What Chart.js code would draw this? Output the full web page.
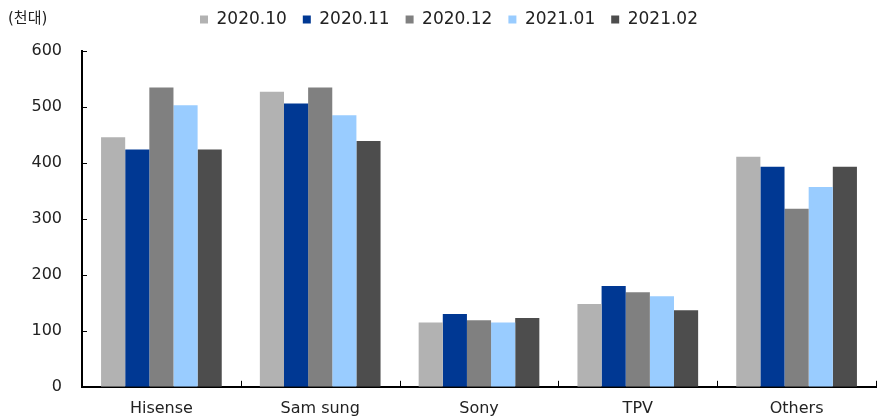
<!DOCTYPE html>
<html>
<head>
<meta charset="utf-8">
<script src="https://cdn.jsdelivr.net/npm/chart.js@4"></script>
<style>
  html, body { margin: 0; padding: 0; background: #fff; }
  #wrap { width: 885px; height: 419px; position: relative; }
</style>
</head>
<body>
<div id="wrap"><canvas id="chart" width="885" height="419"></canvas></div>
<script>
// ---------- Data ----------
const categories = ["Hisense", "Sam sung", "Sony", "TPV", "Others"];
const seriesNames = ["2020.10", "2020.11", "2020.12", "2021.01", "2021.02"];
const s202010 = [446, 527, 115, 148, 411];
const s202011 = [424, 506, 130, 180, 393];
const s202012 = [535, 535, 119, 169, 318];
const s202101 = [503, 485, 115, 162, 357];
const s202102 = [424, 439, 123, 137, 393];
const yTicks = [0, 100, 200, 300, 400, 500, 600];
const unitLabel = "(천대)";

const colors = ["#b2b2b2", "#003893", "#808080", "#99ccff", "#4d4d4d"];
const FONT = "'DejaVu Sans', 'Noto Sans CJK KR', sans-serif";

// ---------- Plugins ----------
// short inward tick marks + unit label; extra room under the legend
const extras = {
  id: "extras",
  afterInit(chart) {
    const lg = chart.legend;
    if (lg) {
      const fit = lg.fit;
      lg.fit = function () { fit.call(this); this.height += 13; };
    }
  },
  afterLayout(chart) {
    // legend sits a little right of centre in the original
    if (chart.legend) {
      chart.legend.left += 11;
      chart.legend.right += 11;
    }
  },
  afterDraw(chart) {
    const ctx = chart.ctx;
    const x = chart.scales.x, y = chart.scales.y;
    const area = chart.chartArea;
    ctx.save();
    ctx.strokeStyle = "#000";
    ctx.lineWidth = 1;
    ctx.beginPath();
    yTicks.forEach(v => {
      const py = Math.round(y.getPixelForValue(v)) + 0.5;
      ctx.moveTo(area.left, py);
      ctx.lineTo(area.left + 5, py);
    });
    for (let i = 0; i <= categories.length; i++) {
      const px = Math.round(x.getPixelForValue(i - 0.5)) + 0.5;
      ctx.moveTo(px, area.bottom);
      ctx.lineTo(px, area.bottom - 6);
    }
    ctx.stroke();
    ctx.fillStyle = "#222";
    ctx.font = "15px " + FONT;
    ctx.textBaseline = "middle";
    ctx.fillText(unitLabel, 8, 19);
    ctx.restore();
  }
};

// ---------- Chart ----------
const datasets = [s202010, s202011, s202012, s202101, s202102].map((d, i) => ({
  label: seriesNames[i],
  data: d,
  backgroundColor: colors[i],
  borderWidth: 0,
  barPercentage: 1,
  categoryPercentage: 0.76
}));

new Chart(document.getElementById("chart"), {
  type: "bar",
  data: { labels: categories, datasets },
  options: {
    responsive: false,
    animation: false,
    layout: { padding: { left: 0, right: 9, top: -5, bottom: -11 } },
    plugins: {
      tooltip: { enabled: false },
      legend: {
        position: "top",
        align: "center",
        labels: {
          boxWidth: 8,
          boxHeight: 8,
          padding: 16,
          color: "#222",
          font: { family: FONT, size: 17 }
        }
      }
    },
    scales: {
      x: {
        grid: { display: false, drawTicks: false },
        border: { display: true, color: "#000", width: 2 },
        ticks: { color: "#222", padding: 12, font: { family: FONT, size: 16 } }
      },
      y: {
        min: 0,
        max: 600,
        afterBuildTicks(axis) { axis.ticks = yTicks.map(v => ({ value: v })); },
        afterFit(axis) { axis.width = 82; },
        grid: { display: false, drawTicks: false },
        border: { display: true, color: "#000", width: 2 },
        ticks: { color: "#222", padding: 20, font: { family: FONT, size: 16 } }
      }
    }
  },
  plugins: [extras]
});
</script>
</body>
</html>
